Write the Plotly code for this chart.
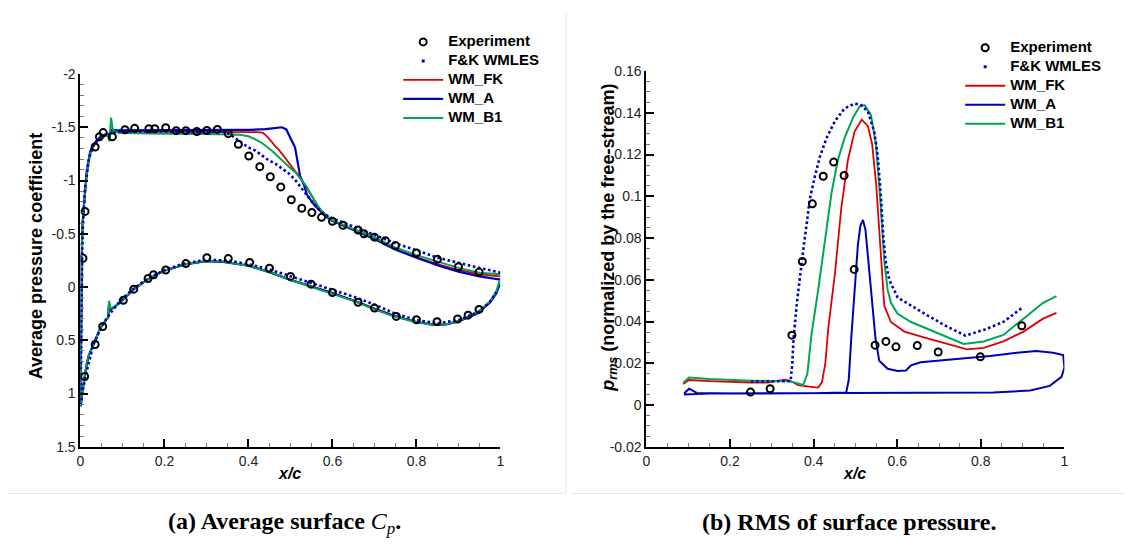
import plotly.graph_objects as go

# ---------------- Left panel: average Cp ----------------
exp_cp_x = [0.006, 0.011, 0.035, 0.045, 0.054, 0.076, 0.106, 0.129, 0.163, 0.177, 0.203, 0.228, 0.251,
            0.277, 0.301, 0.326, 0.352, 0.376, 0.401, 0.427, 0.452, 0.477, 0.502, 0.527, 0.551,
            0.574, 0.600, 0.625, 0.661, 0.675, 0.700, 0.726, 0.750, 0.800, 0.850, 0.900, 0.949,
            0.010, 0.035, 0.053, 0.102, 0.127, 0.161, 0.174, 0.203, 0.251, 0.301, 0.352, 0.403,
            0.450, 0.500, 0.549, 0.600, 0.661, 0.700, 0.752, 0.800, 0.849, 0.898, 0.923, 0.949]
exp_cp_y = [-0.27, -0.71, -1.315, -1.41, -1.45, -1.41, -1.477, -1.49, -1.486, -1.486, -1.495, -1.468, -1.468,
            -1.46, -1.47, -1.48, -1.44, -1.34, -1.23, -1.13, -1.036, -0.94, -0.82, -0.74, -0.70,
            -0.654, -0.617, -0.58, -0.535, -0.50, -0.468, -0.435, -0.39, -0.32, -0.26, -0.19, -0.14,
            0.84, 0.54, 0.37, 0.125, 0.02, -0.08, -0.115, -0.16, -0.22, -0.276, -0.267, -0.23,
            -0.176, -0.10, -0.027, 0.052, 0.143, 0.198, 0.276, 0.307, 0.325, 0.30, 0.264, 0.21]

# lower-surface path (LE -> TE), per model
lower_x = [0.0005, 0.005, 0.010, 0.015, 0.020, 0.031, 0.047, 0.062, 0.066, 0.068, 0.072, 0.080, 0.090,
           0.102, 0.125, 0.157, 0.196, 0.251, 0.300, 0.340, 0.400, 0.450, 0.500, 0.550, 0.600,
           0.650, 0.700, 0.750, 0.800, 0.840, 0.870, 0.900, 0.945, 0.975, 0.990, 0.998]
b1_lower_cp = [1.12, 0.97, 0.84, 0.72, 0.64, 0.54, 0.39, 0.30, 0.29, 0.13, 0.20, 0.19, 0.16,
               0.118, 0.027, -0.064, -0.149, -0.216, -0.245, -0.24, -0.20, -0.14, -0.066, -0.003, 0.06,
               0.13, 0.21, 0.28, 0.33, 0.355, 0.35, 0.32, 0.24, 0.135, 0.04, -0.06]
fk_lower_cp = [1.12, 0.97, 0.84, 0.72, 0.64, 0.54, 0.39, 0.30, 0.29, 0.15, 0.21, 0.19, 0.16,
               0.118, 0.027, -0.064, -0.149, -0.214, -0.243, -0.238, -0.20, -0.14, -0.066, -0.004, 0.058,
               0.128, 0.205, 0.275, 0.327, 0.352, 0.35, 0.32, 0.245, 0.14, 0.05, -0.04]
a_lower_cp = [1.12, 0.97, 0.84, 0.72, 0.64, 0.54, 0.39, 0.30, 0.29, 0.16, 0.21, 0.19, 0.16,
              0.118, 0.027, -0.064, -0.149, -0.214, -0.242, -0.237, -0.20, -0.14, -0.067, -0.005, 0.057,
              0.127, 0.205, 0.275, 0.328, 0.355, 0.352, 0.322, 0.248, 0.145, 0.06, -0.02]

upper_x = [0.0005, 0.001, 0.002, 0.003, 0.005, 0.008, 0.011, 0.015, 0.023, 0.031, 0.040, 0.050, 0.060,
           0.066, 0.069, 0.071, 0.073, 0.076, 0.080, 0.100, 0.150, 0.200, 0.300, 0.350, 0.380, 0.400,
           0.420, 0.433, 0.440, 0.446, 0.456, 0.464, 0.472, 0.480, 0.490, 0.496, 0.500, 0.511, 0.523,
           0.527, 0.533, 0.539, 0.543, 0.551, 0.559, 0.567, 0.574, 0.582, 0.598, 0.653, 0.700, 0.748,
           0.800, 0.850, 0.900, 0.950, 1.000]
b1_upper_cp = [1.12, 0.60, 0.10, -0.30, -0.60, -0.80, -0.90, -1.07, -1.25, -1.32, -1.37, -1.40, -1.42,
               -1.42, -1.37, -1.45, -1.59, -1.50, -1.46, -1.445, -1.445, -1.44, -1.437, -1.435, -1.43, -1.415,
               -1.38, -1.35, -1.33, -1.31, -1.28, -1.25, -1.22, -1.19, -1.155, -1.13, -1.115, -1.08, -1.03,
               -1.006, -0.97, -0.94, -0.91, -0.854, -0.80, -0.75, -0.715, -0.686, -0.63, -0.54, -0.465, -0.375,
               -0.30, -0.24, -0.18, -0.135, -0.12]
fk_upper_cp = [1.12, 0.60, 0.10, -0.30, -0.60, -0.80, -0.90, -1.07, -1.25, -1.32, -1.37, -1.40, -1.425,
               -1.43, -1.37, -1.44, -1.48, -1.47, -1.46, -1.455, -1.455, -1.455, -1.455, -1.455, -1.455, -1.455,
               -1.455, -1.45, -1.43, -1.41, -1.36, -1.32, -1.29, -1.25, -1.20, -1.17, -1.15, -1.09, -1.03,
               -1.01, -0.97, -0.93, -0.91, -0.86, -0.80, -0.75, -0.715, -0.686, -0.625, -0.535, -0.455, -0.36,
               -0.28, -0.215, -0.16, -0.12, -0.10]
a_upper_cp = [1.12, 0.60, 0.10, -0.30, -0.60, -0.80, -0.92, -1.09, -1.27, -1.34, -1.38, -1.41, -1.43,
              -1.43, -1.38, -1.45, -1.47, -1.47, -1.47, -1.47, -1.47, -1.47, -1.472, -1.474, -1.475, -1.476,
              -1.478, -1.48, -1.482, -1.485, -1.49, -1.495, -1.498, -1.50, -1.48, -1.44, -1.40, -1.31, -1.04,
              -1.00, -0.95, -0.87, -0.84, -0.80, -0.763, -0.73, -0.70, -0.67, -0.625, -0.53, -0.45, -0.355,
              -0.275, -0.205, -0.145, -0.10, -0.07]

fkw_x = [1.000, 0.996, 0.949, 0.900, 0.850, 0.800, 0.748, 0.700, 0.661, 0.600, 0.574, 0.559, 0.535,
         0.511, 0.496, 0.464, 0.448, 0.417, 0.400, 0.370, 0.354, 0.338, 0.300, 0.200, 0.100, 0.070,
         0.050, 0.030, 0.020, 0.010, 0.005, 0.002, 0.0005,
         0.005, 0.013, 0.030, 0.050, 0.065, 0.080, 0.100, 0.125, 0.160, 0.200, 0.250, 0.300, 0.350,
         0.400, 0.450, 0.500, 0.550, 0.600, 0.650, 0.700, 0.750, 0.800, 0.850, 0.900, 0.950, 0.975, 0.990]
fkw_cp = [-0.13, -0.14, -0.18, -0.225, -0.276, -0.345, -0.413, -0.49, -0.55, -0.645, -0.70, -0.763, -0.884,
          -1.006, -1.067, -1.158, -1.19, -1.28, -1.31, -1.40, -1.44, -1.46, -1.455, -1.46, -1.46, -1.44,
          -1.42, -1.33, -1.20, -0.90, -0.50, 0.30, 1.10,
          0.98, 0.82, 0.55, 0.37, 0.28, 0.20, 0.11, 0.02, -0.08, -0.16, -0.225, -0.255, -0.25,
          -0.215, -0.165, -0.10, -0.035, 0.03, 0.09, 0.165, 0.25, 0.31, 0.34, 0.31, 0.23, 0.14, 0.05]

# ---------------- Right panel: p_rms ----------------
exp_rms_x = [0.249, 0.296, 0.348, 0.373, 0.397, 0.423, 0.448, 0.473, 0.497, 0.547, 0.573, 0.597, 0.648, 0.698, 0.799, 0.898]
exp_rms_y = [0.0062, 0.0078, 0.0335, 0.0688, 0.0964, 0.1096, 0.1164, 0.110, 0.065, 0.0287, 0.0305, 0.0279, 0.0285, 0.0254, 0.0231, 0.038]

fkw_rms_x = [0.250, 0.300, 0.345, 0.349, 0.352, 0.360, 0.367, 0.375, 0.383, 0.391, 0.403, 0.415, 0.431, 0.451,
             0.474, 0.498, 0.514, 0.530, 0.545, 0.553, 0.561, 0.567, 0.572, 0.581, 0.601, 0.633, 0.672, 0.720,
             0.763, 0.807, 0.854, 0.898]
fkw_rms_y = [0.0113, 0.0113, 0.0115, 0.020, 0.032, 0.049, 0.0616, 0.074, 0.0863, 0.0988, 0.1096, 0.1189, 0.128, 0.136,
             0.1421, 0.1445, 0.1437, 0.1406, 0.131, 0.120, 0.100, 0.080, 0.0693, 0.060, 0.0515, 0.0476, 0.043, 0.0375,
             0.0333, 0.036, 0.0398, 0.0465]

fk_rms_x = [0.088, 0.102, 0.150, 0.200, 0.250, 0.290, 0.315, 0.332, 0.345, 0.363, 0.390, 0.411, 0.420, 0.428,
            0.435, 0.451, 0.466, 0.482, 0.498, 0.515, 0.530, 0.540, 0.550, 0.557, 0.563, 0.569, 0.585, 0.617,
            0.672, 0.728, 0.767, 0.807, 0.854, 0.902, 0.949, 0.981]
fk_rms_y = [0.0101, 0.012, 0.0115, 0.011, 0.0108, 0.0107, 0.0115, 0.0122, 0.0115, 0.0096, 0.0088, 0.0084, 0.011, 0.020,
            0.0367, 0.063, 0.094, 0.1174, 0.131, 0.1367, 0.1336, 0.125, 0.105, 0.085, 0.063, 0.0476, 0.0398, 0.0352,
            0.032, 0.029, 0.0267, 0.0274, 0.0305, 0.0352, 0.0414, 0.0442]

a_rms_x = [0.090, 0.095, 0.102, 0.110, 0.120, 0.200, 0.300, 0.400, 0.478, 0.484, 0.490, 0.498, 0.506, 0.512,
           0.518, 0.524, 0.530, 0.537, 0.542, 0.548, 0.557, 0.577, 0.601, 0.621, 0.633, 0.656, 0.712, 0.759,
           0.822, 0.886, 0.933, 0.973, 0.997, 1.000, 0.993, 0.965, 0.918, 0.830, 0.712, 0.500, 0.300, 0.150, 0.090]
a_rms_y = [0.0055, 0.0065, 0.0078, 0.007, 0.0058, 0.0055, 0.0055, 0.0056, 0.006, 0.012, 0.032, 0.055, 0.077, 0.086,
           0.0887, 0.084, 0.072, 0.055, 0.045, 0.032, 0.0212, 0.0174, 0.0163, 0.0166, 0.019, 0.0205, 0.0215, 0.0225,
           0.0235, 0.0251, 0.0259, 0.0251, 0.024, 0.018, 0.0135, 0.0092, 0.007, 0.006, 0.006, 0.0058, 0.0057, 0.0055, 0.005]

b1_rms_x = [0.088, 0.102, 0.150, 0.200, 0.250, 0.300, 0.340, 0.360, 0.375, 0.385, 0.395, 0.411, 0.427, 0.443,
            0.458, 0.474, 0.494, 0.510, 0.522, 0.537, 0.549, 0.559, 0.569, 0.577, 0.585, 0.601, 0.633, 0.680,
            0.728, 0.759, 0.807, 0.854, 0.902, 0.949, 0.981]
b1_rms_y = [0.0107, 0.0132, 0.0125, 0.012, 0.0117, 0.0115, 0.0115, 0.0105, 0.0096, 0.015, 0.034, 0.0553, 0.0786, 0.1019,
            0.1174, 0.128, 0.1375, 0.143, 0.1437, 0.139, 0.1251, 0.100, 0.0693, 0.0553, 0.049, 0.0437, 0.0398, 0.036,
            0.032, 0.0293, 0.0305, 0.0336, 0.0414, 0.049, 0.0522]

# ---------------- ticks ----------------
x_tickvals = [0, 0.2, 0.4, 0.6, 0.8, 1]
x_ticktext = ["0", "0.2", "0.4", "0.6", "0.8", "1"]
cp_tickvals = [-2, -1.5, -1, -0.5, 0, 0.5, 1, 1.5]
cp_ticktext = ["-2", "-1.5", "-1", "-0.5", "0", "0.5", "1", "1.5"]
rms_tickvals = [-0.02, 0, 0.02, 0.04, 0.06, 0.08, 0.1, 0.12, 0.14, 0.16]
rms_ticktext = ["-0.02", "0", "0.02", "0.04", "0.06", "0.08", "0.1", "0.12", "0.14", "0.16"]

RED = "#e00000"
BLUE = "#0000b4"
GREEN = "#00a651"
DOTBLUE = "#0000c8"
FONT = "Liberation Sans, Arial, sans-serif"

def lg(name):
    return "<span style='font-size:15px'>" + name + "</span>"

fig = go.Figure()

def add_panel(xa, ya, leg, ex, ey, dx, dy, series):
    for name, xs, ys, col, w, rank in series:
        fig.add_trace(go.Scatter(x=xs, y=ys, mode="lines", name=lg(name), line=dict(color=col, width=w),
                                 xaxis=xa, yaxis=ya, legend=leg, legendrank=rank))
    fig.add_trace(go.Scatter(x=dx, y=dy, mode="lines", showlegend=False,
                             line=dict(color=DOTBLUE, width=2.6, dash="2.6px,2.6px"),
                             xaxis=xa, yaxis=ya))
    fig.add_trace(go.Scatter(x=[None], y=[None], mode="markers", name=lg("F&K WMLES"),
                             marker=dict(symbol="square", size=3, color=DOTBLUE),
                             xaxis=xa, yaxis=ya, legend=leg, legendrank=2))
    fig.add_trace(go.Scatter(x=ex, y=ey, mode="markers", name=lg("Experiment"),
                             marker=dict(symbol="circle-open", size=7, color="black", line=dict(width=2)),
                             xaxis=xa, yaxis=ya, legend=leg, legendrank=1))

add_panel("x", "y", "legend", exp_cp_x, exp_cp_y, fkw_x, fkw_cp, [
    ("WM_FK", upper_x[::-1] + lower_x, fk_upper_cp[::-1] + fk_lower_cp, RED, 1.8, 3),
    ("WM_A", upper_x[::-1] + lower_x, a_upper_cp[::-1] + a_lower_cp, BLUE, 2.2, 4),
    ("WM_B1", upper_x[::-1] + lower_x, b1_upper_cp[::-1] + b1_lower_cp, GREEN, 2.0, 5),
])
add_panel("x2", "y2", "legend2", exp_rms_x, exp_rms_y, fkw_rms_x, fkw_rms_y, [
    ("WM_FK", fk_rms_x, fk_rms_y, RED, 1.8, 3),
    ("WM_A", a_rms_x, a_rms_y, BLUE, 2.0, 4),
    ("WM_B1", b1_rms_x, b1_rms_y, GREEN, 2.0, 5),
])

W, H = 1128, 548
def px(v): return v / W
def py(v): return 1 - v / H

axis_common = dict(showline=True, linecolor="black", linewidth=2, mirror=False, showgrid=False,
                   zeroline=False, ticks="inside", ticklen=8, tickwidth=1.8, tickcolor="black",
                   tickfont=dict(family=FONT, size=14, color="#222"), tickmode="array")
minor_common = dict(ticks="inside", ticklen=4, tickcolor="#777", tickwidth=1, tick0=0)

legend_common = dict(xanchor="left", yanchor="top", bgcolor="rgba(0,0,0,0)",
                     font=dict(family=FONT, size=11.7, color="black", weight="bold"),
                     itemwidth=40, tracegroupgap=0)

fig.update_layout(
    width=W, height=H, margin=dict(l=0, r=0, t=0, b=0),
    paper_bgcolor="white", plot_bgcolor="white",
    font=dict(family=FONT),
    xaxis=dict(domain=[px(77), px(500)], range=[0, 1], anchor="y", tickvals=x_tickvals, ticktext=x_ticktext,
               minor=dict(dtick=0.05, **minor_common), **axis_common),
    yaxis=dict(domain=[py(452), py(68)], range=[1.5, -2], anchor="x", tickvals=cp_tickvals, ticktext=cp_ticktext,
               minor=dict(dtick=0.1, **minor_common), **axis_common),
    xaxis2=dict(domain=[px(647), px(1068)], range=[0, 1], anchor="y2", tickvals=x_tickvals, ticktext=x_ticktext,
                minor=dict(dtick=0.05, **minor_common), **axis_common),
    yaxis2=dict(domain=[py(452), py(65)], range=[-0.02, 0.16], anchor="x2", tickvals=rms_tickvals,
                ticktext=rms_ticktext, minor=dict(dtick=0.005, **minor_common), **axis_common),
    legend=dict(x=px(397), y=py(20), **legend_common),
    legend2=dict(x=px(963), y=py(26), **legend_common),
    showlegend=True,
)

def note(x, y, text, font, angle=0):
    fig.add_annotation(x=px(x), y=py(y), xref="paper", yref="paper", showarrow=False,
                       xanchor="center", yanchor="middle", textangle=angle, text=text, font=font)

# axis titles
note(288, 479, "<b><i>x/c</i></b>", dict(family=FONT, size=16, color="black"))
note(857, 479, "<b><i>x/c</i></b>", dict(family=FONT, size=16, color="black"))
note(32, 256, "<b>Average pressure coefficient</b>", dict(family=FONT, size=18, color="black"), -90)
note(609, 237, "<b><i>p</i></b><sub><i><b>rms</b></i></sub><b> (normalized by the free-stream)</b>",
     dict(family=FONT, size=18, color="black"), -90)

# captions
SERIF = "Liberation Serif, Times New Roman, serif"
note(283, 531, "<b>(a) Average surface </b><i>C<sub>p</sub></i><b>.</b>", dict(family=SERIF, size=24, color="black"))
note(851, 529, "<b>(b) RMS of surface pressure.</b>", dict(family=SERIF, size=24, color="black"))

# faint panel separators
sep = dict(color="#e6e6e6", width=1)
fig.add_shape(type="line", xref="paper", yref="paper", x0=px(566), x1=px(566), y0=py(5), y1=py(500), line=sep)
fig.add_shape(type="line", xref="paper", yref="paper", x0=px(4), x1=px(563), y0=py(500), y1=py(500), line=sep)
fig.add_shape(type="line", xref="paper", yref="paper", x0=px(572), x1=px(1128), y0=py(500), y1=py(500), line=sep)

fig.write_html("out.html")
